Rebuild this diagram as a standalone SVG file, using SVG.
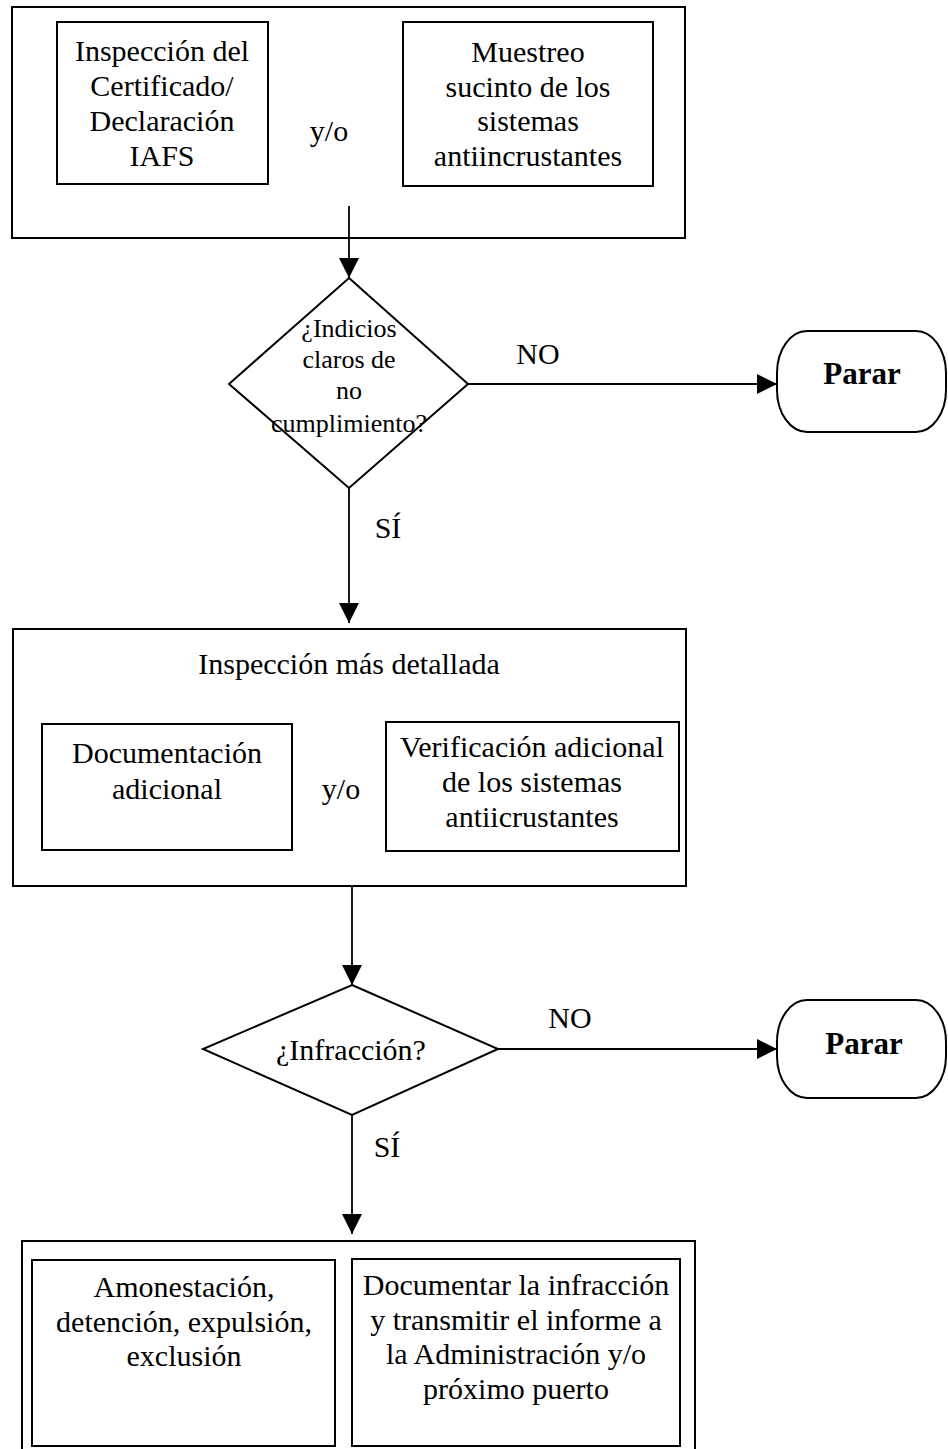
<svg xmlns="http://www.w3.org/2000/svg" width="948" height="1449" viewBox="0 0 948 1449">
<style>
text{font-family:"Liberation Serif","Times New Roman",serif;fill:#000;text-anchor:middle}
.t{font-size:30px}
.d{font-size:26px}
.l{font-size:30px}
.b{font-size:31px;font-weight:bold}
.box{fill:none;stroke:#000;stroke-width:2}
.shape{fill:#fff;stroke:#000;stroke-width:2}
.con{fill:none;stroke:#000;stroke-width:1.8}
</style>
<defs>
<marker id="ah" markerUnits="userSpaceOnUse" markerWidth="20" markerHeight="20" viewBox="0 0 20 20" refX="20" refY="10" orient="auto">
<path d="M0,0 L20,10 L0,20 z" fill="#000"/>
</marker>
</defs>
<rect width="948" height="1449" fill="#fff"/>

<g id="connectors">
<line class="con" x1="349" y1="206" x2="349" y2="278" marker-end="url(#ah)"/>
<line class="con" x1="468" y1="384" x2="777" y2="384" marker-end="url(#ah)"/>
<line class="con" x1="349" y1="488" x2="349" y2="623" marker-end="url(#ah)"/>
<line class="con" x1="352" y1="886" x2="352" y2="985" marker-end="url(#ah)"/>
<line class="con" x1="498" y1="1049" x2="777" y2="1049" marker-end="url(#ah)"/>
<line class="con" x1="352" y1="1115" x2="352" y2="1234" marker-end="url(#ah)"/>
<text class="l" x="538" y="364">NO</text>
<text class="l" x="388" y="538">SÍ</text>
<text class="l" x="570" y="1028">NO</text>
<text class="l" x="387" y="1157">SÍ</text>
</g>

<g id="top-group">
<rect class="box" x="12" y="7" width="673" height="231"/>
<text class="t" x="329" y="141">y/o</text>
</g>
<g id="inspeccion-certificado">
<rect class="box" x="57" y="22" width="211" height="162"/>
<text class="t" x="162" y="61">Inspección del</text>
<text class="t" x="162" y="96">Certificado/</text>
<text class="t" x="162" y="131">Declaración</text>
<text class="t" x="162" y="166">IAFS</text>
</g>
<g id="muestreo">
<rect class="box" x="403" y="22" width="250" height="164"/>
<text class="t" x="528" y="62">Muestreo</text>
<text class="t" x="528" y="97">sucinto de los</text>
<text class="t" x="528" y="131">sistemas</text>
<text class="t" x="528" y="166">antiincrustantes</text>
</g>

<g id="decision-indicios">
<polygon class="shape" points="349,278 468,384 349,488 229,384"/>
<text class="d" x="349" y="337">¿Indicios</text>
<text class="d" x="349" y="368">claros de</text>
<text class="d" x="349" y="399">no</text>
<text class="d" x="349" y="432">cumplimiento?</text>
</g>

<g id="parar-1">
<rect class="shape" x="777" y="331" width="169" height="101" rx="30" ry="42"/>
<text class="b" x="862" y="384">Parar</text>
</g>

<g id="inspeccion-detallada">
<rect class="box" x="13" y="629" width="673" height="257"/>
<text class="t" x="349" y="674">Inspección más detallada</text>
<text class="t" x="341" y="799">y/o</text>
</g>
<g id="documentacion">
<rect class="box" x="42" y="724" width="250" height="126"/>
<text class="t" x="167" y="763">Documentación</text>
<text class="t" x="167" y="799">adicional</text>
</g>
<g id="verificacion">
<rect class="box" x="386" y="722" width="293" height="129"/>
<text class="t" x="532" y="757">Verificación adicional</text>
<text class="t" x="532" y="792">de los sistemas</text>
<text class="t" x="532" y="827">antiicrustantes</text>
</g>

<g id="decision-infraccion">
<polygon class="shape" points="352,985 498,1049 352,1115 203,1049"/>
<text class="t" x="351" y="1060">¿Infracción?</text>
</g>

<g id="parar-2">
<rect class="shape" x="777" y="1000" width="169" height="98" rx="30" ry="42"/>
<text class="b" x="864" y="1054">Parar</text>
</g>

<g id="medidas">
<rect class="box" x="22" y="1241" width="673" height="215"/>
</g>
<g id="amonestacion">
<rect class="box" x="32" y="1260" width="303" height="186"/>
<text class="t" x="184" y="1297">Amonestación,</text>
<text class="t" x="184" y="1332">detención, expulsión,</text>
<text class="t" x="184" y="1366">exclusión</text>
</g>
<g id="documentar">
<rect class="box" x="352" y="1259" width="328" height="187"/>
<text class="t" x="516" y="1295">Documentar la infracción</text>
<text class="t" x="516" y="1330">y transmitir el informe a</text>
<text class="t" x="516" y="1364">la Administración y/o</text>
<text class="t" x="516" y="1399">próximo puerto</text>
</g>
</svg>
